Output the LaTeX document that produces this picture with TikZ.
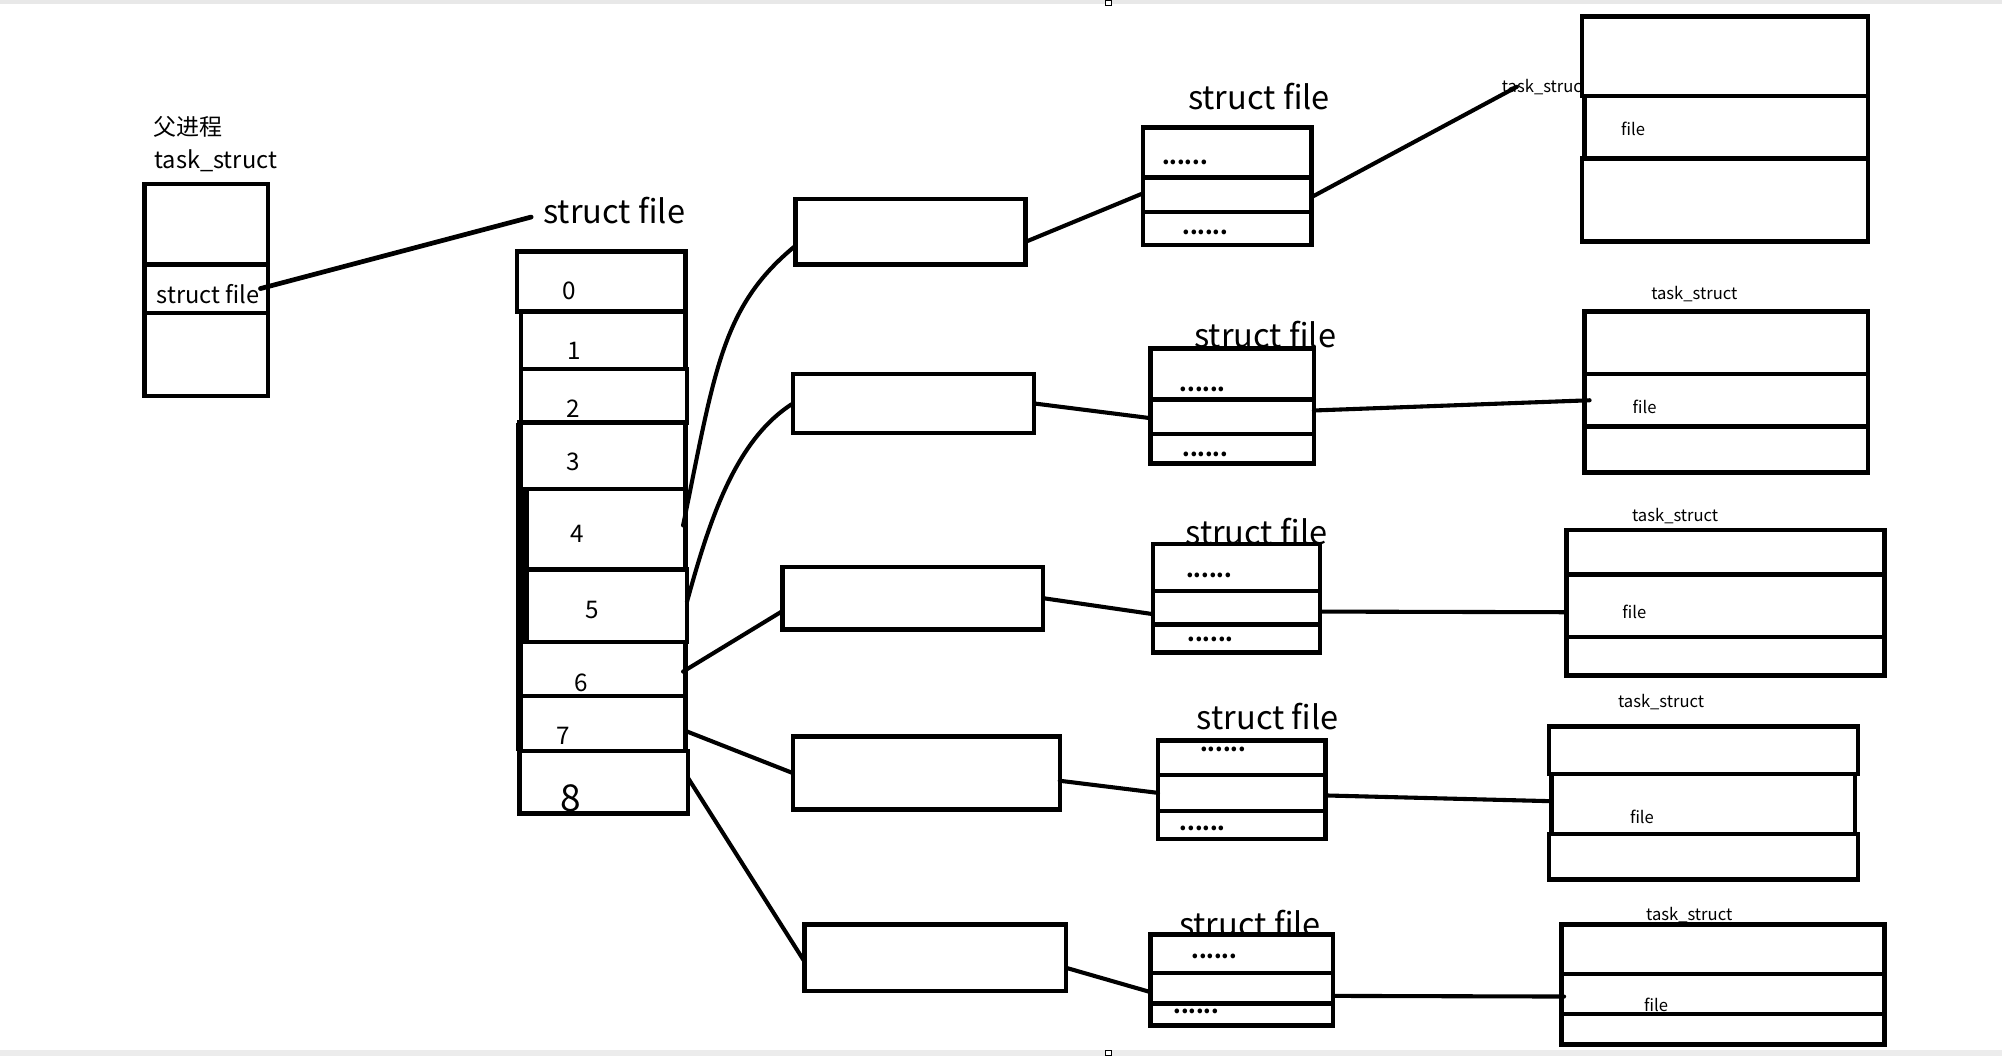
\documentclass[tikz,border=0pt]{standalone}
\usepackage{fontspec}
\setmainfont{Noto Sans CJK SC}
\begin{document}
\begin{tikzpicture}[x=1pt,y=-1pt,
  cell/.style={draw=black,fill=white,line width=3.5pt,inner sep=0pt,outer sep=0pt,rectangle},
  link/.style={draw=black,line width=3.2pt,line cap=round},
  bigtxt/.style={inner sep=0pt,font=\fontsize{25.5}{30}\selectfont},
  midtxt/.style={inner sep=0pt,font=\fontsize{18.5}{22}\selectfont},
  digit/.style={inner sep=0pt,font=\fontsize{19}{22}\selectfont},
  smalltxt/.style={inner sep=0pt,font=\fontsize{13}{15}\selectfont},
  dots/.style={inner sep=0pt,font=\fontsize{17}{20}\selectfont\bfseries}]
\newcommand\cellbox[5]{\node[cell,minimum width={(#4-#2)*1pt},minimum height={(#5-#3)*1pt}] (#1) at ({(#2+#4)/2},{(#3+#5)/2}) {};}
\useasboundingbox (0,0) rectangle (1568,827);
% window bars
\fill[gray!18] (0,0) rectangle (1568,3);
\fill[gray!15] (0,822) rectangle (1568,827);
\node[draw=black,line width=0.8pt,fill=white,minimum width=5pt,minimum height=4pt,inner sep=0pt] (hdlA) at (868,2) {};
\node[draw=black,line width=0.8pt,fill=white,minimum width=5pt,minimum height=4pt,inner sep=0pt] (hdlB) at (868,825) {};

% parent task_struct
\node[midtxt,font=\fontsize{18}{22}\selectfont] (fjc) at (147,99) {父进程};
\node[midtxt] (ptask) at (169,126) {task\_struct};
\cellbox{p1}{113}{144}{210}{207}
\cellbox{p2}{113}{207}{210}{245}
\cellbox{p3}{113}{245}{210}{310}
\node[midtxt] (psf) at (163,230) {struct file};

% fd table
\node[bigtxt] (fdlbl) at (481,165) {struct file};
\cellbox{r0}{405}{197}{537}{244}
\cellbox{r1}{408}{244}{537}{289}
\cellbox{r2}{408}{289}{538}{331}
\cellbox{r3}{407}{331}{537}{383}
\cellbox{r4}{409}{383}{537}{446}
\cellbox{r5}{409}{446}{538}{503}
\cellbox{r6}{407}{503}{537}{545}
\cellbox{r7}{407}{545}{537}{588}
\cellbox{r8}{407}{588}{539}{637}
\draw[line width=5pt] (r3.north west) -- (r7.south west);
\draw[line width=4pt] ([xshift=3pt]r4.north west) -- ([xshift=3pt]r5.south west);
\node[digit] (d0) at (446,228) {0};
\node[digit] (d1) at (450,275) {1};
\node[digit] (d2) at (449,320) {2};
\node[digit] (d3) at (449,362) {3};
\node[digit] (d4) at (452,418) {4};
\node[digit] (d5) at (464,478) {5};
\node[digit] (d6) at (455,535) {6};
\node[digit] (d7) at (441,576) {7};
\node[digit,font=\fontsize{29}{32}\selectfont] (d8) at (447,625) {8};

% file objects
\cellbox{f1}{623}{156}{803}{207}
\cellbox{f2}{621}{293}{810}{339}
\cellbox{f3}{613}{444}{817}{493}
\cellbox{f4}{621}{577}{830}{634}
\cellbox{f5}{630}{724}{835}{776}

% struct file boxes
\cellbox{s1a}{895}{100}{1027}{139}
\cellbox{s1b}{895}{139}{1027}{166}
\cellbox{s1c}{895}{166}{1027}{192}
\cellbox{s2a}{901}{273}{1029}{313}
\cellbox{s2b}{901}{313}{1029}{340}
\cellbox{s2c}{901}{340}{1029}{363}
\cellbox{s3a}{903}{426}{1034}{463}
\cellbox{s3b}{903}{463}{1034}{489}
\cellbox{s3c}{903}{489}{1034}{511}
\cellbox{s4a}{907}{580}{1038}{607}
\cellbox{s4b}{907}{607}{1038}{635}
\cellbox{s4c}{907}{635}{1038}{657}
\cellbox{s5a}{901}{732}{1044}{762}
\cellbox{s5b}{901}{762}{1044}{786}
\cellbox{s5c}{901}{786}{1044}{803}

% task_struct boxes
\node[smalltxt] (tl1) at (1210,68) {task\_struct};
\cellbox{t1a}{1239}{13}{1463}{75}
\cellbox{t1b}{1241}{75}{1463}{124}
\cellbox{t1c}{1239}{124}{1463}{189}
\draw[line width=4pt] (t1b.north west) -- (t1b.south west);
\cellbox{t2a}{1241}{244}{1463}{293}
\cellbox{t2b}{1241}{293}{1463}{334}
\cellbox{t2c}{1241}{334}{1463}{370}
\cellbox{t3a}{1227}{415}{1476}{450}
\cellbox{t3b}{1227}{450}{1476}{499}
\cellbox{t3c}{1227}{499}{1476}{529}
\cellbox{t4a}{1213}{569}{1455}{606}
\cellbox{t4b}{1215}{606}{1453}{653}
\cellbox{t4c}{1213}{653}{1455}{689}
\cellbox{t5a}{1223}{724}{1476}{763}
\cellbox{t5b}{1223}{763}{1476}{794}
\cellbox{t5c}{1223}{794}{1476}{818}

% labels over boxes
\node[bigtxt] (sl1) at (986,76) {struct file};
\node[bigtxt] (sl2) at (991,262) {struct file};
\node[bigtxt] (sl3) at (984,416) {struct file};
\node[bigtxt] (sl4) at (993,561) {struct file};
\node[bigtxt] (sl5) at (979,723) {struct file};
\node[dots] (dt1a) at (928,127) {......};
\node[dots] (dt1c) at (944,182) {......};
\node[dots] (dt2a) at (942,305) {......};
\node[dots] (dt2c) at (944,356) {......};
\node[dots] (dt3a) at (947,451) {......};
\node[dots] (dt3c) at (948,501) {......};
\node[dots] (dt4a) at (958,587) {......};
\node[dots] (dt4c) at (942,649) {......};
\node[dots] (dt5a) at (951,749) {......};
\node[dots] (dt5c) at (937,792) {......};
\node[smalltxt] (tl2) at (1327,230) {task\_struct};
\node[smalltxt] (tl3) at (1312,404) {task\_struct};
\node[smalltxt] (tl4) at (1301,550) {task\_struct};
\node[smalltxt] (tl5) at (1323,717) {task\_struct};
\node[smalltxt] (fl1) at (1279,101) {file};
\node[smalltxt] (fl2) at (1288,319) {file};
\node[smalltxt] (fl3) at (1280,479) {file};
\node[smalltxt] (fl4) at (1286,640) {file};
\node[smalltxt] (fl5) at (1297,787) {file};

% connectors
\coordinate (pend) at (416,170);
\coordinate (tend) at (1188,68);
\draw[link,line width=3.7pt] ([xshift=-6pt]p2.east) -- (pend);
\draw[link] ([xshift=-2pt,yshift=3pt]r4.east) .. controls (560,290) and (565,240) .. ([yshift=-11pt]f1.west);
\draw[link] ([yshift=3pt]r5.east) .. controls (555,410) and (575,345) .. (f2.west);
\draw[link] ([xshift=-2pt,yshift=-2pt]r6.east) -- ([yshift=-10pt]f3.west);
\draw[link] ([yshift=-6pt]r7.east) -- (f4.west);
\draw[link] ([yshift=3pt]r8.east) -- ([yshift=-3pt]f5.west);
\draw[link] ([yshift=-8pt]f1.east) -- ([yshift=1pt]s1b.west);
\draw[link] (f2.east) -- ([yshift=-1pt]s2b.west);
\draw[link] (f3.east) -- ([yshift=-5pt]s3b.west);
\draw[link] ([yshift=-6pt]f4.east) -- (s4b.west);
\draw[link] ([yshift=-8pt]f5.east) -- ([yshift=-3pt]s5b.west);
\draw[link] ([yshift=-2pt]s1b.east) -- (tend);
\draw[link] ([yshift=5pt]s2b.east) -- ([xshift=4pt]t2b.west);
\draw[link] ([yshift=-3pt]s3b.east) -- ([yshift=-5pt]t3b.west);
\draw[link] ([yshift=-2pt]s4b.east) -- ([yshift=2pt]t4b.west);
\draw[link] ([yshift=-6pt]s5b.east) -- ([xshift=2pt,yshift=-2pt]t5b.west);
\end{tikzpicture}
\end{document}
